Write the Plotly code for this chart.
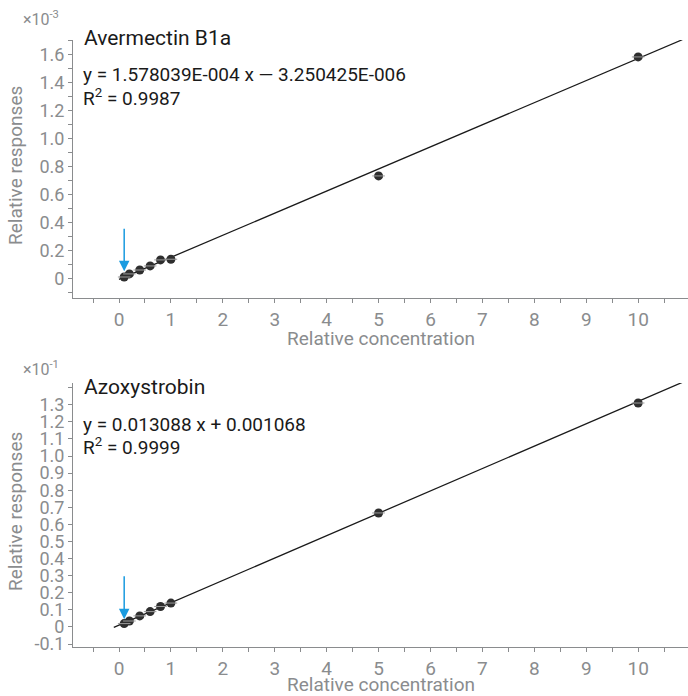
import plotly.graph_objects as go

# Data
conc = [0.1, 0.2, 0.4, 0.6, 0.8, 1, 5, 10]
aver_resp = [0.014, 0.036, 0.064, 0.093, 0.136, 0.141, 0.736, 1.586]   # x10^-3
azox_resp = [0.02, 0.035, 0.065, 0.09, 0.12, 0.14, 0.667, 1.31]         # x10^-1
aver_fit = (0.1578039, -0.003250425)   # slope, intercept in x10^-3 units
azox_fit = (0.13088, 0.01068)          # in x10^-1 units
aver_line_x = [0.0, 10.85]
azox_line_x = [-0.1, 10.9]
x_ticks = list(range(0, 11))
aver_yticks = [0, 0.2, 0.4, 0.6, 0.8, 1.0, 1.2, 1.4, 1.6]
aver_ylabels = ["0", "0.2", "0.4", "0.6", "0.8", "1.0", "1.2", "1.4", "1.6"]
azox_yticks = [-0.1, 0, 0.1, 0.2, 0.3, 0.4, 0.5, 0.6, 0.7, 0.8, 0.9, 1.0, 1.1, 1.2, 1.3]
azox_ylabels = ["-0.1", "0", "0.1", "0.2", "0.3", "0.4", "0.5", "0.6", "0.7", "0.8", "0.9", "1.0", "1.1", "1.2", "1.3"]

GRAY = "#8a8c8e"
FONT = "Roboto"
BLUE = "#1a9be0"
W, H = 688, 696

fig = go.Figure()

def add_panel(resp, fit, line_x, xa, ya):
    s, b = fit
    fig.add_trace(go.Scatter(x=line_x, y=[s * v + b for v in line_x], mode="lines",
                             line=dict(color="#1a1a1a", width=1.3), xaxis=xa, yaxis=ya,
                             showlegend=False, hoverinfo="skip"))
    fig.add_trace(go.Scatter(x=conc, y=resp, mode="markers",
                             marker=dict(symbol="circle", size=9, color="#2e2e2e"),
                             xaxis=xa, yaxis=ya, showlegend=False))
    fig.add_trace(go.Scatter(x=conc, y=resp, mode="markers",
                             marker=dict(symbol="line-ew", size=9, line=dict(color="#9a9a9a", width=1)),
                             xaxis=xa, yaxis=ya, showlegend=False))

add_panel(aver_resp, aver_fit, aver_line_x, "x", "y")
add_panel(azox_resp, azox_fit, azox_line_x, "x2", "y2")

xdom = [73 / W, 1.0]
top_dom = [1 - 298 / H, 1 - 40 / H]
bot_dom = [1 - 647 / H, 1 - 383 / H]

def xaxis(anchor):
    return dict(domain=xdom, range=[-0.886, 10.96], anchor=anchor, automargin=False,
                tickmode="array", tickvals=x_ticks, ticks="outside", ticklen=4, tickcolor=GRAY,
                showgrid=False, zeroline=False,
                showline=True, linecolor=GRAY, linewidth=1,
                tickfont=dict(family=FONT, size=19, color=GRAY),
                minor=dict(dtick=0.5, tick0=0, ticks="outside", ticklen=4,
                           tickcolor=GRAY, showgrid=False))

def yaxis(anchor, dom, rng, tv, tt, dt):
    return dict(domain=dom, range=rng, anchor=anchor, automargin=False,
                tickmode="array", tickvals=tv, ticktext=tt,
                ticks="outside", ticklen=4, tickcolor=GRAY, showgrid=False, zeroline=False,
                showline=True, linecolor=GRAY, linewidth=1,
                tickfont=dict(family=FONT, size=18, color=GRAY),
                minor=dict(dtick=dt, tick0=0, ticks="outside", ticklen=4, tickcolor=GRAY, showgrid=False))

fig.update_layout(
    width=W, height=H, margin=dict(l=0, r=0, t=0, b=0),
    plot_bgcolor="white", paper_bgcolor="white",
    xaxis=xaxis("y"), xaxis2=xaxis("y2"),
    yaxis=yaxis("x", top_dom, [-0.136, 1.707], aver_yticks, aver_ylabels, 0.1),
    yaxis2=yaxis("x2", bot_dom, [-0.117, 1.427], azox_yticks, azox_ylabels, 0.1),
)

ann = []
def px_y(py):
    return 1 - py / H

def texts(off, title, eq, r2, exp, axis_top, axis_bot, xt_off):
    ann.append(dict(xref="paper", yref="paper", x=82 / W, y=px_y(off + 38), text=title,
                    showarrow=False, xanchor="left", yanchor="middle",
                    font=dict(family=FONT, size=21, color="#1a1a1a")))
    ann.append(dict(xref="paper", yref="paper", x=81 / W, y=px_y(off + 75), text=eq,
                    showarrow=False, xanchor="left", yanchor="middle",
                    font=dict(family=FONT, size=19, color="#1a1a1a")))
    ann.append(dict(xref="paper", yref="paper", x=81 / W, y=px_y(off + 97), text=r2,
                    showarrow=False, xanchor="left", yanchor="middle",
                    font=dict(family=FONT, size=19, color="#1a1a1a")))
    ann.append(dict(xref="paper", yref="paper", x=21 / W, y=px_y(off + 19), text=exp,
                    showarrow=False, xanchor="left", yanchor="middle",
                    font=dict(family=FONT, size=16, color=GRAY)))
    ann.append(dict(xref="paper", yref="paper", x=381 / W, y=px_y(axis_bot + xt_off), text="Relative concentration",
                    showarrow=False, xanchor="center", yanchor="middle",
                    font=dict(family=FONT, size=19, color=GRAY)))
    ann.append(dict(xref="paper", yref="paper", x=15 / W, y=px_y((axis_top + axis_bot) / 2 - 3),
                    text="Relative responses", textangle=-90,
                    showarrow=False, xanchor="center", yanchor="middle",
                    font=dict(family=FONT, size=19, color=GRAY)))

texts(0, "Avermectin B1a", "y = 1.578039E-004 x \u2014 3.250425E-006", "R<sup>2</sup> = 0.9987",
      "\u00d710<sup>-3</sup>", 40, 298, 40)
texts(349, "Azoxystrobin", "y = 0.013088 x + 0.001068", "R<sup>2</sup> = 0.9999",
      "\u00d710<sup>-1</sup>", 383, 647, 37)

ann.append(dict(xref="x", yref="y", x=0.1, y=0.055, axref="x", ayref="y", ax=0.1, ay=0.37,
                showarrow=True, arrowhead=2, arrowsize=1.4, arrowwidth=1.5, arrowcolor=BLUE, text=""))
ann.append(dict(xref="x2", yref="y2", x=0.1, y=0.045, axref="x2", ayref="y2", ax=0.1, ay=0.305,
                showarrow=True, arrowhead=2, arrowsize=1.4, arrowwidth=1.5, arrowcolor=BLUE, text=""))

fig.update_layout(annotations=ann)
fig.write_html("out.html", config={"displayModeBar": False},
               post_script="document.body.style.margin='0';document.body.style.overflow='hidden';")
